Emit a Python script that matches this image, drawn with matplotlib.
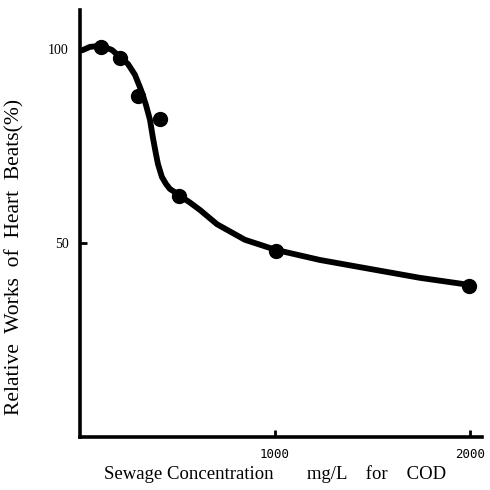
import matplotlib
matplotlib.use("Agg")
import matplotlib.pyplot as plt

# Measured points (COD mg/L, relative heart beat work %)
cod_points = [108, 205, 297, 410, 508, 1005, 1995]
beat_points = [100.5, 97.7, 87.9, 82.0, 62.0, 48.0, 39.0]

# Hand-drawn fitted curve
curve_x = [0, 15, 51, 108, 164, 205, 246, 282, 313, 338, 359, 374, 390, 400,
           420, 441, 461, 492, 528, 564, 615, 703, 846, 1005, 1231, 1487,
           1744, 1995]
curve_y = [99.5, 99.7, 100.5, 100.8, 99.7, 97.9, 96.1, 93.3, 89.4, 85.6, 81.7,
           77.1, 72.8, 70.3, 67.0, 65.2, 63.9, 62.9, 61.6, 60.4, 58.5, 54.8,
           50.8, 48.2, 45.6, 43.3, 41.0, 39.2]

x_ticks = [1000, 2000]
y_ticks = [50, 100]

plt.rcParams["font.family"] = ["Liberation Serif", "DejaVu Serif"]

fig = plt.figure(figsize=(4.9, 4.9), dpi=100)
ax = fig.add_axes([80 / 490, 53 / 490, 402 / 490, 427 / 490])

ax.plot(curve_x, curve_y, color="black", lw=4.2, solid_capstyle="round",
        solid_joinstyle="round", zorder=2)
ax.plot(cod_points, beat_points, "o", color="black", ms=10, zorder=3)

ax.set_xlim(0, 2062)
ax.set_ylim(0, 110)

for side in ("top", "right"):
    ax.spines[side].set_visible(False)
for side in ("left", "bottom"):
    ax.spines[side].set_linewidth(2.6)

ax.set_xticks(x_ticks)
ax.set_yticks(y_ticks)
ax.set_xticklabels([str(v) for v in x_ticks], fontsize=9, fontfamily="DejaVu Sans Mono")
ax.set_yticklabels([str(v) for v in y_ticks], fontsize=10)
ax.tick_params(direction="in", length=5, width=2, pad=8)

ax.set_xlabel("Sewage Concentration       mg/L    for    COD", fontsize=13.5)
ax.xaxis.set_label_coords((275 - 80) / 402, -28 / 427)
ax.set_ylabel("Relative  Works  of  Heart  Beats(%)", fontsize=15.5)
ax.yaxis.set_label_coords((24 - 80) / 402, (437 - 257) / 427)

fig.savefig("out.png", dpi=100)
